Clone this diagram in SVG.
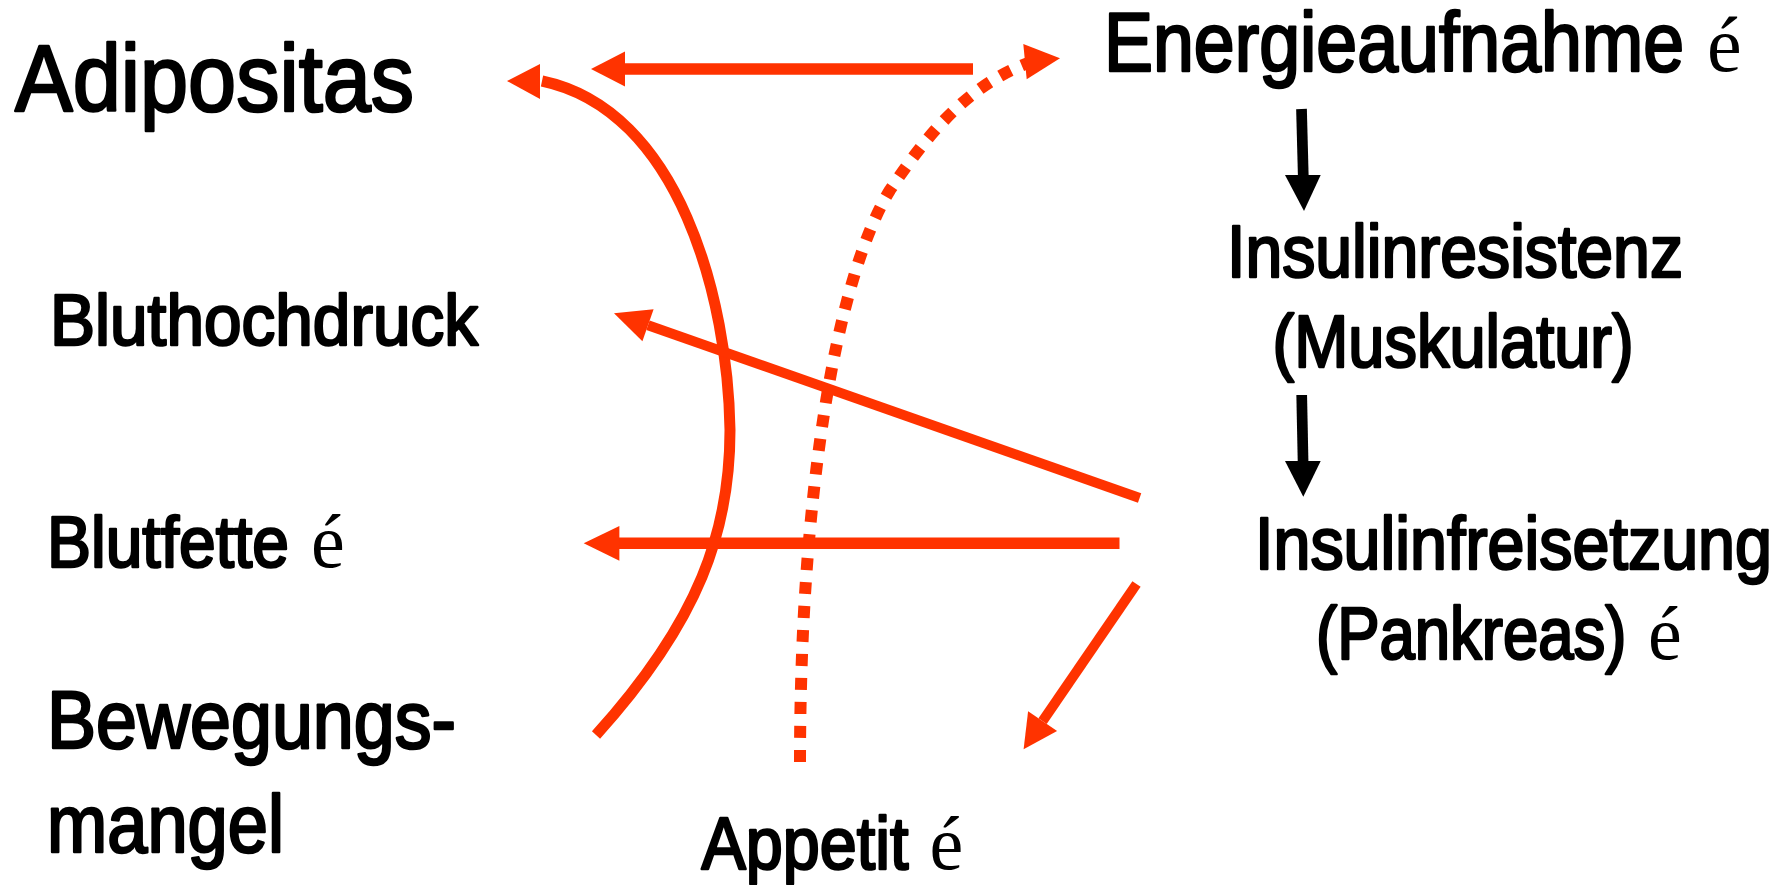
<svg xmlns="http://www.w3.org/2000/svg" width="1787" height="885" viewBox="0 0 1787 885">
<style>
.lbl{font-family:'Liberation Sans Narrow','Liberation Sans',Arial,sans-serif;font-weight:normal;fill:#000;stroke:#000;stroke-width:2.6;stroke-linejoin:round}
.sym{font-family:'Liberation Serif','Times New Roman',serif;fill:#000}
.red{stroke:#ff3300;fill:none}
.redf{fill:#ff3300}
.blk{stroke:#000;fill:none}
.blkf{fill:#000}
</style>
<rect width="1787" height="885" fill="#fff"/>
<g id="connectors">
  <line class="red" x1="973" y1="69" x2="620" y2="69" stroke-width="11.5"/>
  <polygon class="redf" points="591,69 625,51.5 625,86.5"/>
  <path class="red" stroke-width="11" d="M596,735 C700,620 730,530 730,430 C728,300 680,110 542,81"/>
  <polygon class="redf" points="507,81 540,64 540,99"/>
  <path class="red" stroke-width="12" stroke-dasharray="12 12" d="M800,762 C800,500 835,280 890,190 C930,130 970,85 1028,63"/>
  <polygon class="redf" points="1060,58.3 1023.3,44 1026.7,79.3"/>
  <line class="red" x1="1139.6" y1="498" x2="648" y2="325.2" stroke-width="10"/>
  <polygon class="redf" points="614,313.3 653.6,309.2 642.4,341.2"/>
  <line class="red" x1="1119.5" y1="543.3" x2="617" y2="543.3" stroke-width="11.5"/>
  <polygon class="redf" points="583.7,543.3 619.4,526 619.4,560.7"/>
  <line class="red" x1="1136.5" y1="584" x2="1042.6" y2="721.1" stroke-width="10"/>
  <polygon class="redf" points="1023.6,749.3 1057.1,730.9 1028.1,711.3"/>
  <line class="blk" x1="1301.5" y1="109" x2="1303.3" y2="177" stroke-width="10.7"/>
  <polygon class="blkf" points="1285,175 1320.7,175 1304,211"/>
  <line class="blk" x1="1301.7" y1="395" x2="1303.1" y2="463" stroke-width="10.7"/>
  <polygon class="blkf" points="1285,461 1320.7,461 1303.3,496.7"/>
</g>
<g id="node-adipositas">
  <text class="lbl" x="15" y="111" font-size="95" textLength="399" lengthAdjust="spacingAndGlyphs">Adipositas</text>
</g>
<g id="node-energieaufnahme">
  <text class="lbl" x="1104" y="71" font-size="83" textLength="580" lengthAdjust="spacingAndGlyphs">Energieaufnahme</text>
  <text class="sym" x="1707" y="71" font-size="78">é</text>
</g>
<g id="node-insulinresistenz">
  <text class="lbl" x="1227" y="277" font-size="74" textLength="456" lengthAdjust="spacingAndGlyphs">Insulinresistenz</text>
  <text class="lbl" x="1272.6" y="367" font-size="74" textLength="361" lengthAdjust="spacingAndGlyphs">(Muskulatur)</text>
</g>
<g id="node-insulinfreisetzung">
  <text class="lbl" x="1255" y="569" font-size="74" textLength="517" lengthAdjust="spacingAndGlyphs">Insulinfreisetzung</text>
  <text class="lbl" x="1316" y="659" font-size="74" textLength="310.5" lengthAdjust="spacingAndGlyphs">(Pankreas)</text>
  <text class="sym" x="1648" y="659" font-size="76">é</text>
</g>
<g id="node-bluthochdruck">
  <text class="lbl" x="50" y="345" font-size="73" textLength="428" lengthAdjust="spacingAndGlyphs">Bluthochdruck</text>
</g>
<g id="node-blutfette">
  <text class="lbl" x="47" y="567" font-size="72" textLength="242" lengthAdjust="spacingAndGlyphs">Blutfette</text>
  <text class="sym" x="311" y="567" font-size="76">é</text>
</g>
<g id="node-bewegungsmangel">
  <text class="lbl" x="47" y="748" font-size="82" textLength="409" lengthAdjust="spacingAndGlyphs">Bewegungs-</text>
  <text class="lbl" x="47" y="852" font-size="82" textLength="237" lengthAdjust="spacingAndGlyphs">mangel</text>
</g>
<g id="node-appetit">
  <text class="lbl" x="701.5" y="869" font-size="74" textLength="207" lengthAdjust="spacingAndGlyphs">Appetit</text>
  <text class="sym" x="929.5" y="869" font-size="76">é</text>
</g>
</svg>
